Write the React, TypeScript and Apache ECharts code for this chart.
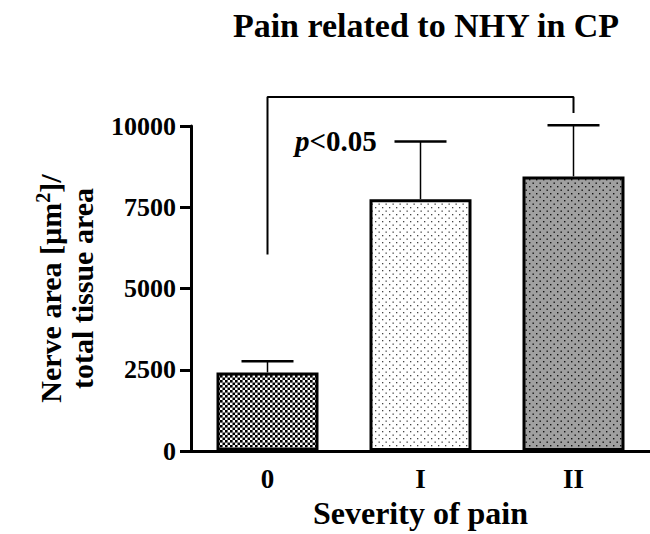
import React, { useEffect, useRef } from "react";
import * as echarts from "echarts";

const categories = ["0", "I", "II"];
const meanValues = [2420, 7750, 8450];
const errorTops = [2760, 9520, 10020];
const yMin = 0;
const yMax = 10000;
const yInterval = 2500;
// significance bracket: [categoryIndex, value]
const bracketPoints = [
  [0, 6050],
  [0, 10890],
  [2, 10890],
  [2, 10400],
];
const titleText = "Pain related to NHY in CP";
const xAxisName = "Severity of pain";
const sigText = "<0.05";

const FONT = "'Liberation Serif', 'Times New Roman', serif";

function makeCanvas(size: number, draw: (ctx: CanvasRenderingContext2D) => void) {
  const c = document.createElement("canvas");
  c.width = size;
  c.height = size;
  const ctx = c.getContext("2d")!;
  draw(ctx);
  return c;
}

export default function App() {
  const ref = useRef<HTMLDivElement>(null);
  useEffect(() => {
    if (!ref.current) return;
    const chart = echarts.init(ref.current, undefined, { renderer: "svg" });

    const checker = makeCanvas(10, (ctx) => {
      ctx.fillStyle = "#ffffff";
      ctx.fillRect(0, 0, 10, 10);
      ctx.fillStyle = "#000000";
      for (let i = 0; i < 2; i++) {
        for (let j = 0; j < 2; j++) {
          ctx.fillRect(i * 5, j * 5, 2.6, 2.6);
          ctx.fillRect(i * 5 + 2.5, j * 5 + 2.5, 2.6, 2.6);
        }
      }
    });
    const lightDots = makeCanvas(7, (ctx) => {
      ctx.fillStyle = "#ffffff";
      ctx.fillRect(0, 0, 7, 7);
      ctx.fillStyle = "#444444";
      ctx.fillRect(0.5, 0.5, 1.3, 1.3);
      ctx.fillRect(4, 4, 1.3, 1.3);
    });
    const darkDots = makeCanvas(7, (ctx) => {
      ctx.fillStyle = "#a0a0a0";
      ctx.fillRect(0, 0, 7, 7);
      ctx.fillStyle = "#111111";
      ctx.fillRect(0.5, 0.5, 1.4, 1.4);
      ctx.fillRect(4, 4, 1.4, 1.4);
    });
    const patterns = [checker, lightDots, darkDots];

    const option: any = {
      animation: false,
      textStyle: { fontFamily: FONT },
      title: {
        text: titleText,
        left: 421,
        top: 3,
        textAlign: "center",
        textStyle: { fontFamily: FONT, fontWeight: "bold", fontSize: 34, color: "#000" },
      },
      grid: { left: 191, top: 126, width: 465, bottom: 81 },
      xAxis: {
        type: "category",
        data: categories,
        boundaryGap: true,
        axisLine: { lineStyle: { color: "#000", width: 3 } },
        axisTick: { show: false },
        axisLabel: { color: "#000", fontFamily: FONT, fontWeight: "bold", fontSize: 27, margin: 14 },
        name: xAxisName,
        nameLocation: "middle",
        nameGap: 30,
        nameTextStyle: { color: "#000", fontFamily: FONT, fontWeight: "bold", fontSize: 32 },
      },
      yAxis: {
        type: "value",
        min: yMin,
        max: yMax,
        interval: yInterval,
        axisLine: { show: true, lineStyle: { color: "#000", width: 3 } },
        axisTick: { show: true, length: 11, lineStyle: { color: "#000", width: 3 } },
        splitLine: { show: false },
        axisLabel: {
          color: "#000",
          fontFamily: FONT,
          fontWeight: "bold",
          fontSize: 26,
          margin: 15,
          formatter: (v: number) => String(v),
        },
        name: "{a|Nerve area [µm}{s|2}{a|]/}\n{a|total tissue area}",
        nameLocation: "middle",
        nameRotate: 90,
        nameGap: 94,
        nameTextStyle: {
          color: "#000",
          rich: {
            a: { fontFamily: FONT, fontWeight: "bold", fontSize: 30, lineHeight: 32, color: "#000", verticalAlign: "bottom" },
            s: { fontFamily: FONT, fontWeight: "bold", fontSize: 20, lineHeight: 20, color: "#000", verticalAlign: "top", padding: [0, 0, 20, 0] },
          },
        },
      },
      series: [
        {
          type: "bar",
          barWidth: 102,
          data: meanValues.map((v, i) => ({
            value: v,
            itemStyle: {
              color: { image: patterns[i], repeat: "repeat" },
              borderColor: "#000",
              borderWidth: 3,
            },
          })),
          z: 2,
        },
        {
          type: "custom",
          z: 3,
          clip: false,
          data: meanValues.map((v, i) => [i, v, errorTops[i]]),
          renderItem: (params: any, api: any) => {
            const base = api.coord([api.value(0), api.value(1)]);
            const top = api.coord([api.value(0), api.value(2)]);
            const half = 26;
            return {
              type: "group",
              children: [
                {
                  type: "line",
                  shape: { x1: base[0], y1: base[1], x2: top[0], y2: top[1] },
                  style: { stroke: "#000", lineWidth: 1.5 },
                },
                {
                  type: "line",
                  shape: { x1: top[0] - half, y1: top[1], x2: top[0] + half, y2: top[1] },
                  style: { stroke: "#000", lineWidth: 2.5 },
                },
              ],
            };
          },
        },
        {
          type: "line",
          data: bracketPoints,
          symbol: "none",
          clip: false,
          silent: true,
          lineStyle: { color: "#000", width: 2 },
          z: 4,
        },
      ],
      graphic: [
        {
          type: "text",
          x: 295,
          y: 141,
          style: {
            text: "{i|p}{b|" + sigText + "}",
            verticalAlign: "middle",
            rich: {
              i: { fontFamily: FONT, fontWeight: "bold", fontStyle: "italic", fontSize: 29, fill: "#000" },
              b: { fontFamily: FONT, fontWeight: "bold", fontSize: 29, fill: "#000" },
            },
          },
        },
      ],
    };
    chart.setOption(option);
    return () => chart.dispose();
  }, []);
  return (
    <div
      ref={ref}
      style={{ position: "absolute", left: 0, top: 0, width: 650, height: 534, background: "#fff" }}
    />
  );
}
